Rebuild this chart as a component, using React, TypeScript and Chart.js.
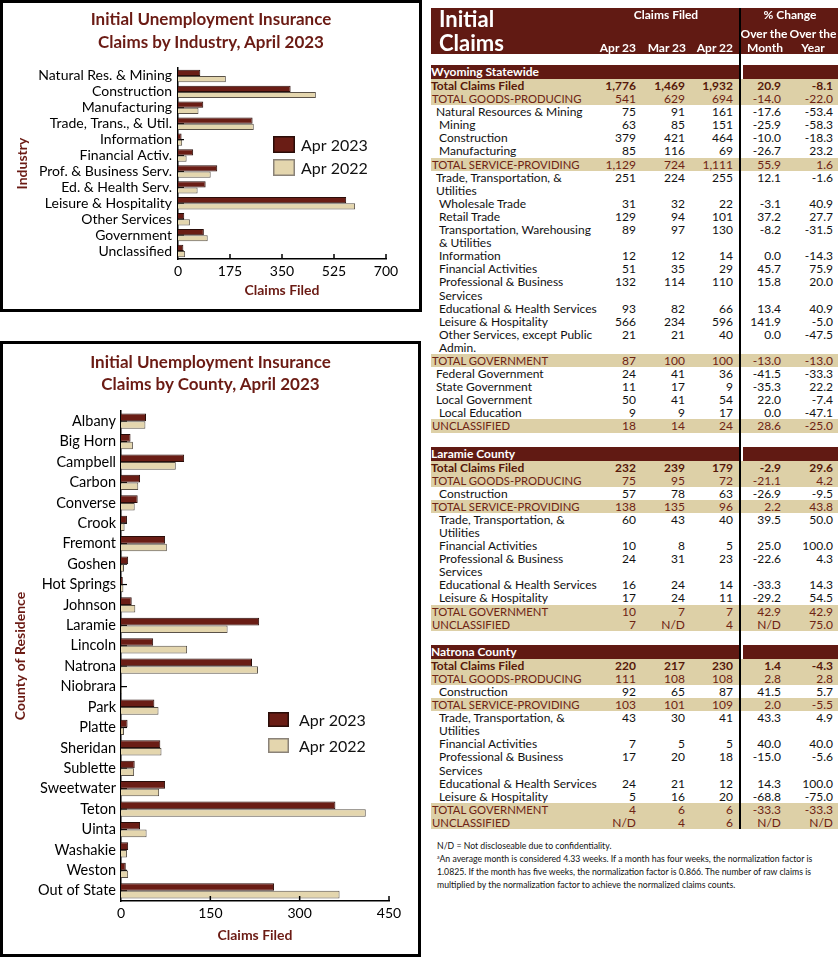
import React, { useEffect, useRef } from 'react';
import { Chart, registerables } from 'chart.js';

Chart.register(...registerables);

const FONT = 'Lato, "Noto Sans", sans-serif';
const MAROON = '#611a13';
const TAN = '#ddd0a7';
const TITLE_RED = '#6b1b14';
const DARK_BAR = '#6a1d15';
const DARK_EDGE = '#2a0d09';
const LIGHT_BAR = '#e4d6ae';
const LIGHT_EDGE = '#5a5248';

Chart.defaults.font.family = FONT;

// ---------- chart data ----------
const seriesLabels = ['Apr 2023', 'Apr 2022'];

const industries = [
  'Natural Res. & Mining', 'Construction', 'Manufacturing', 'Trade, Trans., & Util.',
  'Information', 'Financial Activ.', 'Prof. & Business Serv.', 'Ed. & Health Serv.',
  'Leisure & Hospitality', 'Other Services', 'Government', 'Unclassified',
];
const industryApr2023 = [75, 379, 85, 251, 12, 51, 132, 93, 566, 21, 87, 18];
const industryApr2022 = [161, 464, 69, 255, 14, 29, 110, 66, 596, 40, 100, 24];
const industryTicks = [0, 175, 350, 525, 700];

const counties = [
  'Albany', 'Big Horn', 'Campbell', 'Carbon', 'Converse', 'Crook', 'Fremont', 'Goshen',
  'Hot Springs', 'Johnson', 'Laramie', 'Lincoln', 'Natrona', 'Niobrara', 'Park', 'Platte',
  'Sheridan', 'Sublette', 'Sweetwater', 'Teton', 'Uinta', 'Washakie', 'Weston', 'Out of State',
];
const countyApr2023 = [42, 16, 106, 32, 28, 10, 74, 12, 3, 18, 232, 54, 220, 0, 56, 11, 66, 23, 74, 360, 32, 12, 8, 257];
const countyApr2022 = [41, 20, 92, 29, 23, 6, 77, 5, 4, 24, 179, 111, 230, 1, 63, 5, 68, 22, 64, 411, 43, 10, 12, 367];
const countyTicks = [0, 150, 300, 450];

// ---------- table data ----------
type Row = [string, string, string, string, string, string];

const tableColumns = ['Apr 23', 'Mar 23', 'Apr 22'];

const statewideRows: Row[] = [
  ['Total Claims Filed', '1,776', '1,469', '1,932', '20.9', '-8.1'],
  ['TOTAL GOODS-PRODUCING', '541', '629', '694', '-14.0', '-22.0'],
  ['Natural Resources & Mining', '75', '91', '161', '-17.6', '-53.4'],
  ['Mining', '63', '85', '151', '-25.9', '-58.3'],
  ['Construction', '379', '421', '464', '-10.0', '-18.3'],
  ['Manufacturing', '85', '116', '69', '-26.7', '23.2'],
  ['TOTAL SERVICE-PROVIDING', '1,129', '724', '1,111', '55.9', '1.6'],
  ['Trade, Transportation, &\nUtilities', '251', '224', '255', '12.1', '-1.6'],
  ['Wholesale Trade', '31', '32', '22', '-3.1', '40.9'],
  ['Retail Trade', '129', '94', '101', '37.2', '27.7'],
  ['Transportation, Warehousing\n& Utilities', '89', '97', '130', '-8.2', '-31.5'],
  ['Information', '12', '12', '14', '0.0', '-14.3'],
  ['Financial Activities', '51', '35', '29', '45.7', '75.9'],
  ['Professional & Business\nServices', '132', '114', '110', '15.8', '20.0'],
  ['Educational & Health Services', '93', '82', '66', '13.4', '40.9'],
  ['Leisure & Hospitality', '566', '234', '596', '141.9', '-5.0'],
  ['Other Services, except Public\nAdmin.', '21', '21', '40', '0.0', '-47.5'],
  ['TOTAL GOVERNMENT', '87', '100', '100', '-13.0', '-13.0'],
  ['Federal Government', '24', '41', '36', '-41.5', '-33.3'],
  ['State Government', '11', '17', '9', '-35.3', '22.2'],
  ['Local Government', '50', '41', '54', '22.0', '-7.4'],
  ['Local Education', '9', '9', '17', '0.0', '-47.1'],
  ['UNCLASSIFIED', '18', '14', '24', '28.6', '-25.0'],
];

const laramieRows: Row[] = [
  ['Total Claims Filed', '232', '239', '179', '-2.9', '29.6'],
  ['TOTAL GOODS-PRODUCING', '75', '95', '72', '-21.1', '4.2'],
  ['Construction', '57', '78', '63', '-26.9', '-9.5'],
  ['TOTAL SERVICE-PROVIDING', '138', '135', '96', '2.2', '43.8'],
  ['Trade, Transportation, &\nUtilities', '60', '43', '40', '39.5', '50.0'],
  ['Financial Activities', '10', '8', '5', '25.0', '100.0'],
  ['Professional & Business\nServices', '24', '31', '23', '-22.6', '4.3'],
  ['Educational & Health Services', '16', '24', '14', '-33.3', '14.3'],
  ['Leisure & Hospitality', '17', '24', '11', '-29.2', '54.5'],
  ['TOTAL GOVERNMENT', '10', '7', '7', '42.9', '42.9'],
  ['UNCLASSIFIED', '7', 'N/D', '4', 'N/D', '75.0'],
];

const natronaRows: Row[] = [
  ['Total Claims Filed', '220', '217', '230', '1.4', '-4.3'],
  ['TOTAL GOODS-PRODUCING', '111', '108', '108', '2.8', '2.8'],
  ['Construction', '92', '65', '87', '41.5', '5.7'],
  ['TOTAL SERVICE-PROVIDING', '103', '101', '109', '2.0', '-5.5'],
  ['Trade, Transportation, &\nUtilities', '43', '30', '41', '43.3', '4.9'],
  ['Financial Activities', '7', '5', '5', '40.0', '40.0'],
  ['Professional & Business\nServices', '17', '20', '18', '-15.0', '-5.6'],
  ['Educational & Health Services', '24', '21', '12', '14.3', '100.0'],
  ['Leisure & Hospitality', '5', '16', '20', '-68.8', '-75.0'],
  ['TOTAL GOVERNMENT', '4', '6', '6', '-33.3', '-33.3'],
  ['UNCLASSIFIED', 'N/D', '4', '6', 'N/D', 'N/D'],
];

const sectionNames = ['Wyoming Statewide', 'Laramie County', 'Natrona County'];
const sectionRows = [statewideRows, laramieRows, natronaRows];

const footnoteLines = [
  'N/D = Not discloseable due to confidentiality.',
  'An average month is considered 4.33 weeks. If a month has four weeks, the normalization factor is',
  '1.0825. If the month has five weeks, the normalization factor is 0.866. The number of raw claims is',
  'multiplied by the normalization factor to achieve the normalized claims counts.',
];

// ---------- plugins ----------
const boxLegend = {
  id: 'boxLegend',
  afterDraw(chart: any, _args: any, opts: any) {
    const { ctx, chartArea } = chart;
    ctx.save();
    chart.data.datasets.forEach((ds: any, i: number) => {
      const x = chartArea.left + opts.dx;
      const y = chartArea.top + opts.dy + i * opts.gap;
      ctx.fillStyle = ds.backgroundColor;
      ctx.fillRect(x, y, opts.w, opts.h);
      ctx.strokeStyle = i === 0 ? DARK_EDGE : '#8a8278';
      ctx.lineWidth = 1.5;
      ctx.strokeRect(x + 0.75, y + 0.75, opts.w - 1.5, opts.h - 1.5);
      ctx.fillStyle = '#111';
      ctx.font = `${opts.size}px ${FONT}`;
      ctx.textBaseline = 'middle';
      ctx.textAlign = 'left';
      ctx.fillText(ds.label, x + opts.w + opts.textGap, y + opts.h / 2 + 1);
    });
    ctx.restore();
  },
};

const innerTicks = {
  id: 'innerTicks',
  beforeDatasetsDraw(chart: any) {
    const { ctx, chartArea } = chart;
    const ys = chart.scales.y;
    ctx.save();
    ctx.strokeStyle = '#000';
    ctx.lineWidth = 1.2;
    ys.ticks.forEach((_t: any, i: number) => {
      const py = ys.getPixelForTick(i);
      ctx.beginPath();
      ctx.moveTo(chartArea.left, py);
      ctx.lineTo(chartArea.left + 6, py);
      ctx.stroke();
    });
    ctx.restore();
  },
  afterDatasetsDraw(chart: any) {
    const { ctx, chartArea } = chart;
    const xs = chart.scales.x;
    ctx.save();
    ctx.strokeStyle = '#000';
    ctx.lineWidth = 1.5;
    xs.ticks.forEach((_t: any, i: number) => {
      if (i === 0) return;
      const px = xs.getPixelForTick(i);
      ctx.beginPath();
      ctx.moveTo(px, chartArea.bottom);
      ctx.lineTo(px, chartArea.bottom - 5);
      ctx.stroke();
    });
    ctx.restore();
  },
};

type ChartProps = {
  labels: string[];
  a: number[];
  b: number[];
  ticks: number[];
  yTitle: string;
  w: number;
  h: number;
  area: { left: number; top: number; right: number; bottom: number };
  legend: { dx: number; dy: number; w: number; h: number; gap: number; size: number; textGap: number };
  catPct: number;
  labelSize: number;
  labelPad: number;
  yTitlePad: number;
};

function BarChart(p: ChartProps) {
  const ref = useRef<HTMLCanvasElement>(null);
  useEffect(() => {
    const canvas = ref.current!;
    const chart = new Chart(canvas, {
      type: 'bar',
      data: {
        labels: p.labels,
        datasets: [
          { label: seriesLabels[0], data: p.a, backgroundColor: DARK_BAR, borderColor: DARK_EDGE, borderWidth: 1 },
          { label: seriesLabels[1], data: p.b, backgroundColor: LIGHT_BAR, borderColor: LIGHT_EDGE, borderWidth: 1 },
        ],
      },
      options: {
        indexAxis: 'y',
        responsive: false,
        animation: false,
        layout: { padding: { top: p.area.top, right: p.w - p.area.right, left: 0, bottom: 0 } },
        datasets: { bar: { categoryPercentage: p.catPct, barPercentage: 1 } },
        plugins: {
          legend: { display: false },
          tooltip: { enabled: false },
          title: { display: false },
          boxLegend: p.legend,
        } as any,
        scales: {
          x: {
            type: 'linear',
            min: p.ticks[0],
            max: p.ticks[p.ticks.length - 1],
            afterBuildTicks: (s: any) => {
              s.ticks = p.ticks.map((v) => ({ value: v }));
            },
            afterFit: (s: any) => {
              s.height = p.h - p.area.bottom;
            },
            ticks: { color: '#000', font: { size: 14 }, padding: 4, autoSkip: false, maxRotation: 0 },
            grid: { display: false, drawTicks: false },
            border: { display: true, color: '#000', width: 1.5 },
            title: {
              display: true,
              text: 'Claims Filed',
              color: TITLE_RED,
              font: { size: 14, weight: 'bold' },
              padding: { top: 0, bottom: 10.6 },
            },
          },
          y: {
            type: 'category',
            afterFit: (s: any) => {
              s.width = p.area.left;
            },
            ticks: { color: '#000', font: { size: p.labelSize }, padding: p.labelPad, autoSkip: false },
            grid: { display: false, drawTicks: false },
            border: { display: true, color: '#000', width: 1.5 },
            title: {
              display: true,
              text: p.yTitle,
              color: TITLE_RED,
              font: { size: 14, weight: 'bold' },
              padding: { top: p.yTitlePad, bottom: 0 },
            },
          },
        },
      } as any,
      plugins: [boxLegend, innerTicks],
    });
    return () => chart.destroy();
  }, []);
  return <canvas ref={ref} width={p.w} height={p.h} style={{ position: 'absolute', left: 0, top: 0, width: p.w, height: p.h }} />;
}

function Panel(props: {
  top: number;
  width: number;
  height: number;
  title: string[];
  titleTop: number;
  titleLH: number;
  children: React.ReactNode;
}) {
  return (
    <div
      style={{
        position: 'absolute',
        left: 0,
        top: props.top,
        width: props.width,
        height: props.height,
        border: '3px solid #000',
        boxSizing: 'border-box',
        background: '#fff',
      }}
    >
      {props.children}
      <div
        style={{
          position: 'absolute',
          left: 0,
          right: 0,
          top: props.titleTop,
          textAlign: 'center',
          color: TITLE_RED,
          fontWeight: 700,
          fontSize: 17,
          lineHeight: `${props.titleLH}px`,
        }}
      >
        {props.title.map((t) => (
          <div key={t}>{t}</div>
        ))}
      </div>
    </div>
  );
}

// ---------- table ----------
const COLS = '172px 35px 49px 52px 2px 44px 53px';
const PAD_R = [2, 2, 6, 4, 5];
const ROW_LH = 13.1;
const SHALLOW = new Set([
  'Natural Resources & Mining',
  'Trade, Transportation, &\nUtilities',
  'Federal Government',
  'State Government',
  'Local Government',
]);

function TableRow({ row, section }: { row: Row; section: number }) {
  const label = row[0];
  const isTotal = label.startsWith('Total Claims');
  const isGroup = !isTotal && (label.startsWith('TOTAL') || label === 'UNCLASSIFIED');
  const bg = isTotal || isGroup ? TAN : 'transparent';
  const color = isTotal ? '#561809' : isGroup ? '#6e2313' : '#111';
  const indent = isTotal ? 0 : isGroup ? 1 : section === 0 && SHALLOW.has(label) ? 5 : 8;
  const values = row.slice(1);
  return (
    <div style={{ display: 'grid', gridTemplateColumns: COLS, lineHeight: `${ROW_LH}px`, color, fontWeight: isTotal ? 700 : 400 }}>
      <div style={{ background: bg, paddingLeft: indent, whiteSpace: 'pre-line', fontSize: isGroup ? 11.3 : 12 }}>{label}</div>
      {values.slice(0, 3).map((v, i) => (
        <div key={i} style={{ background: bg, textAlign: 'right', paddingRight: PAD_R[i] }}>{v}</div>
      ))}
      <div />
      {values.slice(3).map((v, i) => (
        <div key={i + 3} style={{ background: bg, textAlign: 'right', paddingRight: PAD_R[i + 3] }}>{v}</div>
      ))}
    </div>
  );
}

function ClaimsTable() {
  const hdr: React.CSSProperties = { position: 'absolute', fontSize: 12, lineHeight: '14px', whiteSpace: 'nowrap' };
  return (
    <>
      <div style={{ position: 'absolute', left: 431, top: 8, width: 407, height: 46, background: MAROON, color: '#fff', fontWeight: 700 }}>
        <div style={{ position: 'absolute', left: 8, top: -2, fontSize: 22, lineHeight: '26.4px' }}>Initial</div>
        <div style={{ position: 'absolute', left: 8, top: 22, fontSize: 22, lineHeight: '26.4px' }}>Claims</div>
        <div style={{ ...hdr, left: 185, width: 100, top: 0, textAlign: 'center' }}>Claims Filed</div>
        <div style={{ ...hdr, left: 309, width: 100, top: 0, textAlign: 'center' }}>% Change</div>
        <div style={{ ...hdr, left: 283, width: 100, top: 19, textAlign: 'center' }}>Over the</div>
        <div style={{ ...hdr, left: 332, width: 100, top: 19, textAlign: 'center' }}>Over the</div>
        {tableColumns.map((c, i) => (
          <div key={c} style={{ ...hdr, right: 407 - [205, 255, 302][i], top: 33 }}>{c}</div>
        ))}
        <div style={{ ...hdr, left: 284, width: 100, top: 33, textAlign: 'center' }}>Month</div>
        <div style={{ ...hdr, left: 332, width: 100, top: 33, textAlign: 'center' }}>Year</div>
      </div>
      <div style={{ position: 'absolute', left: 431, top: 65, width: 407, fontSize: 12 }}>
        {sectionNames.map((name, si) => (
          <div key={name} style={{ marginBottom: si < 2 ? 14 : 0 }}>
            <div style={{ display: 'grid', gridTemplateColumns: '310px 2px 95px', height: 14 }}>
              <div style={{ background: MAROON, color: '#fff', fontWeight: 700, lineHeight: '14px' }}>{name}</div>
              <div />
              <div style={{ background: MAROON }} />
            </div>
            {sectionRows[si].map((r, ri) => (
              <TableRow key={ri} row={r} section={si} />
            ))}
          </div>
        ))}
      </div>
      <div style={{ position: 'absolute', left: 739, top: 8, width: 2, height: 821, background: '#000' }} />
      <div style={{ position: 'absolute', left: 437, top: 839, fontSize: 8.7, lineHeight: '13px', color: '#111', whiteSpace: 'nowrap' }}>
        {footnoteLines.map((l, i) => (
          <div key={i}>
            {i === 1 ? <sup style={{ fontSize: 5, verticalAlign: 'top', lineHeight: '10px' }}>a</sup> : null}
            {l}
          </div>
        ))}
      </div>
    </>
  );
}

export default function App() {
  return (
    <div style={{ position: 'absolute', left: 0, top: 0, width: 840, height: 958, background: '#fff', fontFamily: FONT, overflow: 'hidden' }}>
      <Panel top={0} width={422} height={312} title={['Initial Unemployment Insurance', 'Claims by Industry, April 2023']} titleTop={3.5} titleLH={23}>
        <BarChart
          labels={industries}
          a={industryApr2023}
          b={industryApr2022}
          ticks={industryTicks}
          yTitle="Industry"
          w={416}
          h={306}
          area={{ left: 175, top: 65, right: 383, bottom: 256 }}
          legend={{ dx: 95, dy: 68, w: 22, h: 17, gap: 23, size: 16, textGap: 6 }}
          catPct={0.78}
          labelSize={14}
          labelPad={6}
          yTitlePad={10.6}
        />
      </Panel>
      <Panel top={341} width={421} height={616} title={['Initial Unemployment Insurance', 'Claims by County, April 2023']} titleTop={6.5} titleLH={22}>
        <BarChart
          labels={counties}
          a={countyApr2023}
          b={countyApr2022}
          ticks={countyTicks}
          yTitle="County of Residence"
          w={415}
          h={610}
          area={{ left: 118, top: 67, right: 386, bottom: 557 }}
          legend={{ dx: 147, dy: 301, w: 21, h: 15, gap: 26, size: 16, textGap: 10 }}
          catPct={0.75}
          labelSize={14.5}
          labelPad={5}
          yTitlePad={8.6}
        />
      </Panel>
      <ClaimsTable />
    </div>
  );
}
